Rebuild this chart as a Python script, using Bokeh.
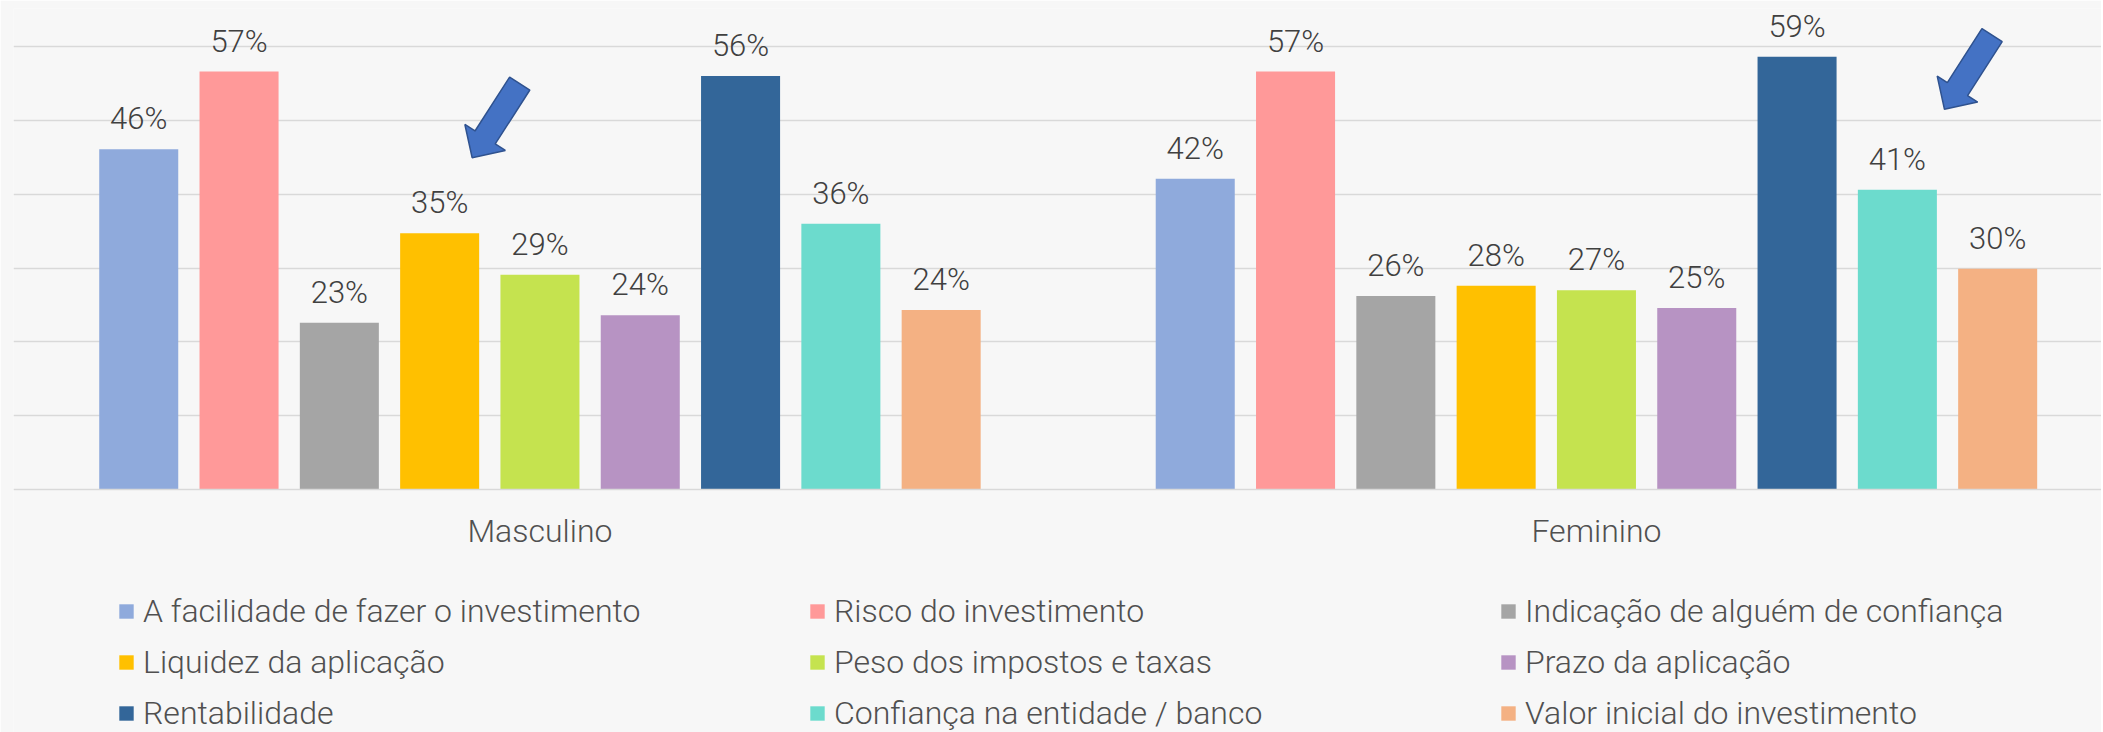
from bokeh.plotting import figure
from bokeh.models import (ColumnDataSource, FixedTicker, Legend, LegendItem, LabelSet, Range1d)
from bokeh.transform import dodge
from bokeh.embed import file_html
from bokeh.resources import INLINE
from bokeh.core.properties import value

# ---------------- data ----------------
groups = ["Masculino", "Feminino"]
series = [
    "A facilidade de fazer o investimento",
    "Risco do investimento",
    "Indicação de alguém de confiança",
    "Liquidez da aplicação",
    "Peso dos impostos e taxas",
    "Prazo da aplicação",
    "Rentabilidade",
    "Confiança na entidade / banco",
    "Valor inicial do investimento",
]
masculino = [0.461, 0.566, 0.226, 0.347, 0.291, 0.236, 0.560, 0.360, 0.243]
feminino = [0.421, 0.566, 0.262, 0.276, 0.270, 0.246, 0.586, 0.406, 0.299]
colors = ["#8FAADC", "#FF9999", "#A5A5A5", "#FFC000", "#C5E34F",
          "#B793C3", "#336699", "#6CDBCD", "#F4B183"]
# arrow tips: (group position, value)
arrow_tips = [(-0.0642, 0.4494), (1.3294, 0.5150)]

FONT = "Roboto Light"
BG = "#F7F7F7"
GRID = "#D9D9D9"

# ---------------- layout constants ----------------
PX_PER_X = 1056.5      # pixels per group unit
PX_PER_Y = 738.3       # pixels per 1.0 (100%)
LEFT = 13
TOP = 8
HEIGHT = 732
BASE = 489             # pixel row of the zero line
FRAME_W = 2088
FRAME_H = HEIGHT - TOP
STEP = 0.09494
BAR_W = 0.0748

x_start = -0.4983
y_start = -(HEIGHT - BASE) / PX_PER_Y
y_end = (BASE - TOP) / PX_PER_Y

p = figure(
    frame_width=FRAME_W, frame_height=FRAME_H,
    x_range=Range1d(x_start, x_start + FRAME_W / PX_PER_X),
    y_range=Range1d(y_start, y_end),
    output_backend="svg", toolbar_location=None,
    y_axis_location=None,
    min_border_left=LEFT, min_border_right=0, min_border_top=TOP,
    min_border_bottom=0,
    background_fill_color=BG, border_fill_color=BG,
    outline_line_color=None,
)

items = []
n = len(series)
for i, name in enumerate(series):
    off = (i - (n - 1) / 2) * STEP
    vals = [masculino[i], feminino[i]]
    src = ColumnDataSource(dict(
        g=list(range(len(groups))),
        v=vals,
        lbl=["{:.0%}".format(v) for v in vals],
    ))
    r = p.vbar(x=dodge("g", off), top="v", width=BAR_W, bottom=0, source=src,
               fill_color=colors[i], line_color=None)
    items.append(LegendItem(label=name, renderers=[r]))
    p.add_layout(LabelSet(
        x=dodge("g", off), y="v", text="lbl", source=src,
        y_offset=20, text_align="center", text_baseline="alphabetic",
        text_font=value(FONT), text_font_size="31px", text_color="#404040",
    ))

# arrows (annotation shapes anchored at tip points)
def arrow_poly(tx, ty):
    bx, by = 0.541, -0.843   # back direction (screen px, y down)
    nx, ny = 0.843, 0.541
    pts = [(0, 0), (24, 24), (24, 12), (88, 12), (88, -12), (24, -12), (24, -24)]
    xs, ys = [], []
    for a, w in pts:
        sx = a * bx + w * nx
        sy = a * by + w * ny
        xs.append(tx + sx / PX_PER_X)
        ys.append(ty - sy / PX_PER_Y)
    return xs, ys

for tx, ty in arrow_tips:
    xs, ys = arrow_poly(tx, ty)
    p.patch(xs, ys, fill_color="#4472C4", line_color="#2F528F", line_width=1.5)

# axes / grid
p.xaxis.fixed_location = 0
p.xaxis.ticker = FixedTicker(ticks=list(range(len(groups))))
p.xaxis.major_label_overrides = {i: g for i, g in enumerate(groups)}
p.xaxis.major_tick_line_color = None
p.xaxis.minor_tick_line_color = None
p.xaxis.major_tick_out = 0
p.xaxis.axis_line_color = GRID
p.xaxis.axis_line_width = 1.5
p.xaxis.major_label_standoff = 22
p.xaxis.major_label_text_font = FONT
p.xaxis.major_label_text_font_size = "32px"
p.xaxis.major_label_text_color = "#505050"

p.xgrid.visible = False
p.ygrid.ticker = FixedTicker(ticks=[0.1, 0.2, 0.3, 0.4, 0.5, 0.6])
p.ygrid.grid_line_color = GRID
p.ygrid.grid_line_width = 1.5

ROW_H = 51
LEG_H = 3 * ROW_H
LEG_TOP = 611 - ROW_H / 2
legend = Legend(
    items=items, orientation="horizontal", ncols=3,
    location=(104, -(LEG_TOP - (HEIGHT - LEG_H))), margin=0, padding=0, spacing=0,
    glyph_width=18, glyph_height=18, label_standoff=8,
    label_width=665, label_height=ROW_H,
    label_text_font=FONT, label_text_font_size="32px", label_text_color="#505050",
    border_line_color=None, background_fill_alpha=0,
)
p.add_layout(legend, "center")

open("out.html", "w").write(file_html(p, INLINE))
